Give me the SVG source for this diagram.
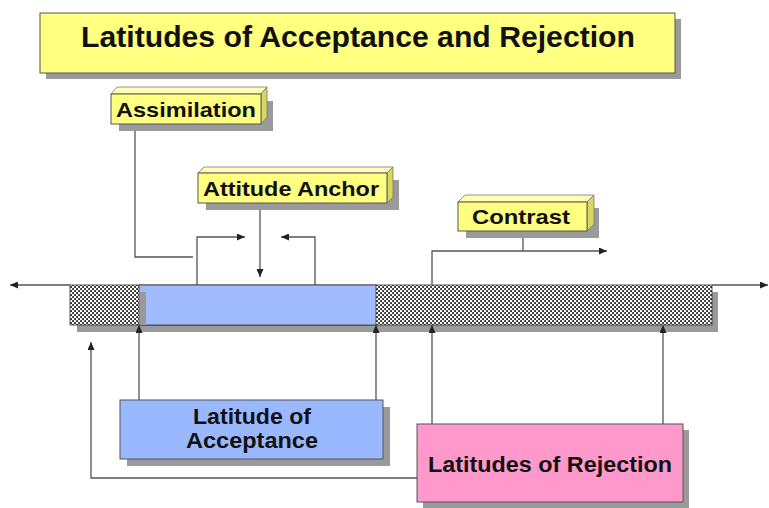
<svg xmlns="http://www.w3.org/2000/svg" width="769" height="508" viewBox="0 0 769 508">
<defs>
<style>
text{font-family:"Liberation Sans",Arial,sans-serif;font-weight:bold;fill:#111;text-anchor:middle}
.ln{fill:none;stroke:#555;stroke-width:1.3}
.sh{fill:#9a9a9a}
.yf{fill:#ffff80;stroke:#555;stroke-width:1}
.yt{fill:#ffffb8;stroke:#777;stroke-width:0.8}
.yr{fill:#d8d860;stroke:#777;stroke-width:0.8}
</style>
<pattern id="chk" width="4" height="4" patternUnits="userSpaceOnUse">
<rect width="4" height="4" fill="#fff"/>
<rect x="0.2" y="0.2" width="1.7" height="1.7" fill="#000"/>
<rect x="2.2" y="2.2" width="1.7" height="1.7" fill="#000"/>
</pattern>
<marker id="ar" markerWidth="8" markerHeight="7" refX="8" refY="3.5" orient="auto" markerUnits="userSpaceOnUse">
<path d="M0,0 L8,3.5 L0,7 z" fill="#222"/>
</marker>
</defs>
<rect width="769" height="508" fill="#fff"/>

<g id="title">
<rect class="sh" x="46" y="19" width="635" height="60"/>
<rect x="40" y="13" width="635" height="60" fill="#ffff80" stroke="#555" stroke-width="1"/>
<text x="358" y="47" font-size="30" textLength="554" lengthAdjust="spacingAndGlyphs">Latitudes of Acceptance and Rejection</text>
</g>

<g id="bar">
<rect class="sh" x="77" y="292" width="641" height="40"/>
<rect x="70" y="285" width="642" height="40" fill="url(#chk)" stroke="#333" stroke-width="0.8"/>
<rect x="139" y="285" width="237" height="40" fill="#a0bcff" stroke="#333" stroke-width="0.8"/>
<rect class="sh" x="140" y="292" width="6" height="33"/>
</g>

<g id="connectors">
<path class="ln" d="M70,285 L10,285" marker-end="url(#ar)"/>
<path class="ln" d="M712,285 L768,285" marker-end="url(#ar)"/>
<path class="ln" d="M135,124 L135,257 L193,257"/>
<path class="ln" d="M197,285 L197,237 L245,237" marker-end="url(#ar)"/>
<path class="ln" d="M260,203 L260,277" marker-end="url(#ar)"/>
<path class="ln" d="M315,285 L315,237 L281,237" marker-end="url(#ar)"/>
<path class="ln" d="M523,231 L523,251"/>
<path class="ln" d="M432,285 L432,251 L607,251" marker-end="url(#ar)"/>
<path class="ln" d="M139,400 L139,325" marker-end="url(#ar)"/>
<path class="ln" d="M376,400 L376,325" marker-end="url(#ar)"/>
<path class="ln" d="M432,424 L432,325" marker-end="url(#ar)"/>
<path class="ln" d="M663,424 L663,325" marker-end="url(#ar)"/>
<path class="ln" d="M417,478 L91,478 L91,342" marker-end="url(#ar)"/>
</g>

<g id="assimilation">
<rect class="sh" x="119" y="101" width="154" height="30"/>
<polygon class="yt" points="111,94 117,87 267,87 261,94"/>
<polygon class="yr" points="261,94 267,87 267,117 261,124"/>
<rect class="yf" x="111" y="94" width="150" height="30"/>
<text x="186" y="117" font-size="21" textLength="140" lengthAdjust="spacingAndGlyphs">Assimilation</text>
</g>

<g id="attitude-anchor">
<rect class="sh" x="206" y="180" width="193" height="30"/>
<polygon class="yt" points="198,173 204,167 393,167 387,173"/>
<polygon class="yr" points="387,173 393,167 393,197 387,203"/>
<rect class="yf" x="198" y="173" width="189" height="30"/>
<text x="291" y="196" font-size="21" textLength="176" lengthAdjust="spacingAndGlyphs">Attitude Anchor</text>
</g>

<g id="contrast">
<rect class="sh" x="466" y="208" width="133" height="30"/>
<polygon class="yt" points="458,202 465,195 594,195 587,202"/>
<polygon class="yr" points="587,202 594,195 594,224 587,231"/>
<rect class="yf" x="458" y="202" width="129" height="29"/>
<text x="521" y="224" font-size="21" textLength="98" lengthAdjust="spacingAndGlyphs">Contrast</text>
</g>

<g id="acceptance">
<rect class="sh" x="127" y="407" width="263" height="59"/>
<rect x="120" y="400" width="263" height="59" fill="#99b8ff" stroke="#555" stroke-width="1"/>
<text x="252" y="424" font-size="22" textLength="118" lengthAdjust="spacingAndGlyphs">Latitude of</text>
<text x="252" y="448" font-size="22" textLength="132" lengthAdjust="spacingAndGlyphs">Acceptance</text>
</g>

<g id="rejection">
<rect class="sh" x="423" y="430" width="266" height="78"/>
<rect x="417" y="424" width="266" height="78" fill="#ff99cc" stroke="#555" stroke-width="1"/>
<text x="550" y="472" font-size="22" textLength="244" lengthAdjust="spacingAndGlyphs">Latitudes of Rejection</text>
</g>
</svg>
